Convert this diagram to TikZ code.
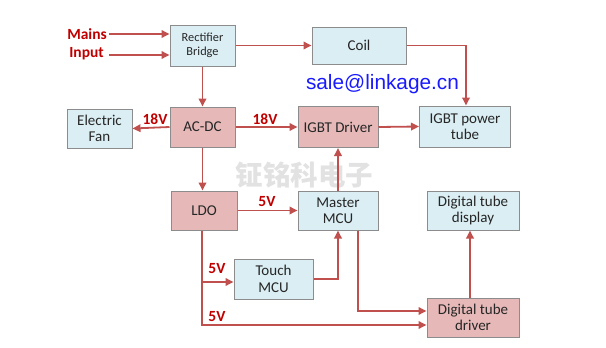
\documentclass[tikz,border=0pt]{standalone}
\usepackage{fontspec}
\setmainfont{Carlito}
\newfontfamily\arialfont{Liberation Sans}
\newfontfamily\cjkfont{Noto Sans CJK SC}
\usetikzlibrary{arrows.meta}
\definecolor{bluefill}{HTML}{DAEEF3}
\definecolor{pinkfill}{HTML}{E6B9B8}
\definecolor{boxline}{HTML}{8C8C8C}
\definecolor{arrred}{HTML}{C0504D}
\definecolor{lblred}{HTML}{C00000}
\definecolor{mailblue}{HTML}{1A1AFF}
\definecolor{wmgray}{HTML}{E2E2E2}
\begin{document}
\begin{tikzpicture}[x=1pt,y=-1pt,
  box/.style={draw=boxline,line width=1pt,align=center,inner sep=0pt,font=\fontsize{15}{16.5}\selectfont,text=black!85},
  bbox/.style={box,fill=bluefill},
  pbox/.style={box,fill=pinkfill},
  arr/.style={draw=arrred,line width=1.8pt,-{Triangle[length=8pt,width=7.5pt]}},
  lbl/.style={text=lblred,font=\bfseries\fontsize{15.5}{16}\selectfont,inner sep=0pt}]
\useasboundingbox (0,0) rectangle (606,348);
% watermarks / texts
\node[text=wmgray,font=\cjkfont\bfseries\fontsize{27.5}{28}\selectfont,inner sep=0pt] (wm) at (304.5,175) {钲铭科电子};
\node[text=mailblue,font=\arialfont\fontsize{20.8}{21}\selectfont,inner sep=0pt] (mail) at (382.5,84) {sale@linkage.cn};
% boxes
\node[bbox,minimum width=65pt,minimum height=41pt,font=\fontsize{12.3}{14}\selectfont] (rect) at (202.5,45.5) {Rectifier\\Bridge};
\node[bbox,minimum width=94pt,minimum height=37pt] (coil) at (359,45.5) {Coil};
\node[bbox,minimum width=91pt,minimum height=41pt] (tube) at (465,126.5) {IGBT power\\tube};
\node[pbox,minimum width=80pt,minimum height=41pt] (igd) at (338,127) {IGBT Driver};
\node[pbox,minimum width=65pt,minimum height=40pt] (acdc) at (202.5,127) {AC-DC};
\node[bbox,minimum width=65pt,minimum height=39pt] (fan) at (99.5,128.5) {Electric\\Fan};
\node[pbox,minimum width=66pt,minimum height=39pt] (ldo) at (204,210.5) {LDO};
\node[bbox,minimum width=80pt,minimum height=39pt] (mcu) at (338,210.5) {Master\\MCU};
\node[bbox,minimum width=79pt,minimum height=40pt] (touch) at (273.5,279) {Touch\\MCU};
\node[bbox,minimum width=92pt,minimum height=39pt] (disp) at (473,210.5) {Digital tube\\display};
\node[pbox,minimum width=92pt,minimum height=39pt] (drv) at (473,317.5) {Digital tube\\driver};
% input labels
\node[lbl,anchor=east] (mains) at (107,34) {Mains};
\node[lbl,anchor=east] (input) at (104,54) {Input};
\coordinate (m1) at (109,34);
\coordinate (i1) at (109,55);
\draw[arr] (m1) -- (m1 -| rect.west);
\draw[arr] (i1) -- (i1 -| rect.west);
% connectors
\draw[arr] (rect.east) -- (coil.west);
\coordinate (ct) at (466,45.5);
\draw[arr] (coil.east) -- (ct) -- (ct |- tube.north);
\draw[arr] (rect.south) -- (acdc.north);
\draw[arr] (acdc.west) -- (fan.east);
\draw[arr] (acdc.east) -- (igd.west);
\draw[arr] (igd.east) -- (tube.west);
\draw[arr] (acdc.south) -- (acdc.south |- ldo.north);
\draw[arr] (ldo.east) -- (mcu.west);
\draw[arr] (mcu.north) -- (igd.south);
\coordinate (j1) at (202,282);
\coordinate (j2) at (202,325);
\draw[arr] (ldo.south -| j1) -- (j2) -- (j2 -| drv.west);
\draw[arr] (j1) -- (j1 -| touch.west);
\draw[arr] (touch.east) -| (mcu.south);
\coordinate (k1) at (358,311);
\draw[arr] (mcu.south -| k1) -- (k1) -- (k1 -| drv.west);
\coordinate (d1) at (470,0);
\draw[arr] (drv.north -| d1) -- (disp.south -| d1);
% voltage labels
\node[lbl] (v1) at (155,119) {18V};
\node[lbl] (v2) at (265,119) {18V};
\node[lbl] (v3) at (267,202) {5V};
\node[lbl] (v4) at (217,269) {5V};
\node[lbl] (v5) at (217,317) {5V};
\end{tikzpicture}
\end{document}
